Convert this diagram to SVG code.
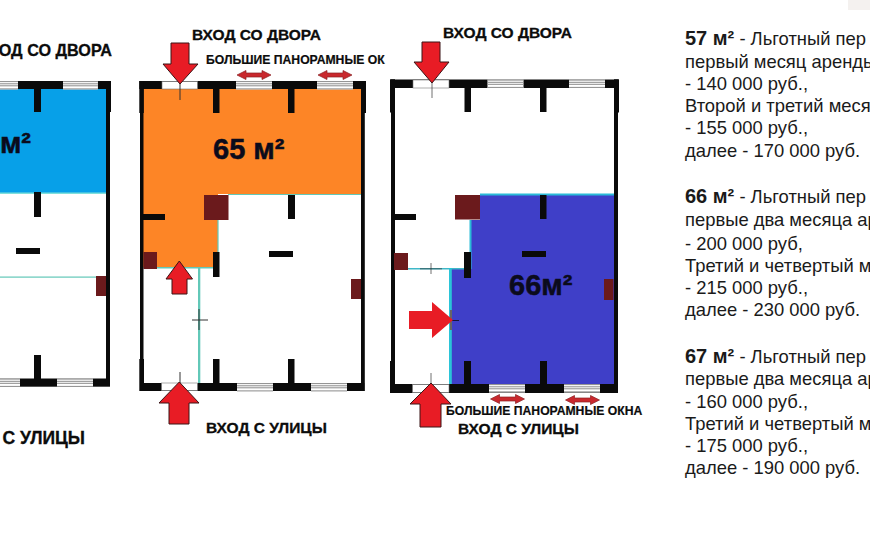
<svg xmlns="http://www.w3.org/2000/svg" width="870" height="540" viewBox="0 0 870 540">
<style>
.k{fill:#0a0a0a}
.dr{fill:#6b1a1c}
.ar{fill:#e81c25;stroke:#3a1416;stroke-width:1}
.da{fill:#c9282d;stroke:#8a2023;stroke-width:.7}
.door{fill:#fff;stroke:#777;stroke-width:.6}
.thin{stroke:#333;stroke-width:1;fill:none}
.lab{font:bold 15.5px "Liberation Sans",Arial,sans-serif;fill:#0c0c0c;stroke:#0c0c0c;stroke-width:.3}
.sm{font:bold 12.2px "Liberation Sans",Arial,sans-serif;fill:#0c0c0c;stroke:#0c0c0c;stroke-width:.2}
.area{font:bold 29px "Liberation Sans",Arial,sans-serif;fill:#0b0b1c;stroke:#0b0b1c;stroke-width:.5}
.t{font:18.4px "Liberation Sans",Arial,sans-serif;fill:#1a1a1a}
.t tspan{font-weight:bold;font-size:20px}
</style>
<defs>
<g id="win"><rect width="36" height="8.5" fill="#fff"/><path d="M0 .6H36M0 2.8H36M0 4.8H36M0 7.9H36" stroke="#8a8a8a" stroke-width="1" fill="none"/></g>
<path id="dbl" d="M-17 0L-8-4.5V-2H8V-4.5L17 0L8 4.5V2H-8V4.5Z" class="da"/>
</defs>
<rect width="870" height="540" fill="#fff"/>
<rect x="848" y="0" width="22" height="10" fill="#f4f1ef"/>

<g id="plan-57">
<rect x="0" y="89" width="106" height="104" fill="#07a0e8"/>
<rect x="0" y="192.500" width="106" height="1.500" fill="#7fe0dc"/>
<rect x="0" y="276.500" width="96" height="1.200" fill="#62c8b8"/>
<g class="k">
<rect x="0" y="81" width="111" height="8"/>
<rect x="106" y="81" width="5" height="31"/>
<rect x="106" y="81" width="4" height="305"/>
<rect x="34" y="89" width="7" height="23"/>
<rect x="34" y="192" width="7" height="25"/>
<rect x="16" y="248" width="24" height="6"/>
<rect x="34" y="355" width="7" height="24"/>
<rect x="0" y="378.500" width="110" height="8.200"/>
</g>
<use href="#win" transform="translate(-18,81)"/><use href="#win" transform="translate(63,81) scale(.97,1)"/>
<use href="#win" transform="translate(-16,378.500)"/><use href="#win" transform="translate(57,378.500)"/>
<rect class="dr" x="96" y="276" width="10" height="20"/>
<text class="area" x="31" y="153" text-anchor="end">м²</text>
<text class="lab" x="112" y="56" text-anchor="end" style="font-size:16.200px">ОД СО ДВОРА</text>
<text class="lab" x="85" y="444" text-anchor="end" style="font-size:17.500px">С УЛИЦЫ</text>
</g>

<g id="plan-65">
<path d="M143 89H361V194H218V268H143Z" fill="#fd8526"/>
<path d="M228 194.500H361M218 220V268" stroke="#62c8b8" stroke-width="1.200" fill="none"/>
<rect x="143" y="267" width="70" height="1.500" fill="#62c8b8"/>
<rect x="198" y="268" width="2.300" height="115" fill="#62c8b8"/>
<g class="k">
<rect x="139.300" y="81" width="226.700" height="8"/>
<rect x="139.300" y="81" width="4.500" height="32"/>
<rect x="140" y="81" width="3.500" height="310"/>
<rect x="361" y="81" width="5" height="32"/>
<rect x="361" y="81" width="3.800" height="310"/>
<rect x="213" y="89" width="6.500" height="24"/>
<rect x="288" y="89" width="6.500" height="24"/>
<rect x="288" y="195" width="7" height="24"/>
<rect x="143" y="214" width="22" height="6"/>
<rect x="213" y="252" width="6.500" height="25"/>
<rect x="269" y="251" width="24" height="6"/>
<rect x="213" y="359" width="6.500" height="24"/>
<rect x="288" y="359" width="6.500" height="24"/>
<rect x="139.300" y="359" width="4.700" height="24"/>
<rect x="139.300" y="383" width="225" height="8"/>
</g>
<rect class="door" x="162" y="81.500" width="35.500" height="7.500"/>
<rect class="door" x="161.500" y="383" width="36" height="7.500"/>
<use href="#win" transform="translate(236,81)"/><use href="#win" transform="translate(317,81)"/>
<use href="#win" transform="translate(237,383)"/><use href="#win" transform="translate(311,383)"/>
<rect class="dr" x="204" y="195" width="24.500" height="25"/>
<rect class="dr" x="143.500" y="252" width="13.500" height="17"/>
<rect class="dr" x="351" y="279" width="10" height="20"/>
<path class="thin" d="M180 84V100M180 372V383M192 320H208M199 309V330"/>
<path class="ar" d="M171 43H189V64H198L180 84L163 64H171Z"/>
<path class="ar" d="M179.300 261L192.500 279H187V294H172V279H166Z"/>
<path class="ar" d="M179.300 382L199 403H189V424H169V403H159Z"/>
<use href="#dbl" transform="translate(254,75)"/><use href="#dbl" transform="translate(335,75)"/>
<text class="area" x="213" y="159">65 м²</text>
<text class="lab" x="192" y="40">ВХОД СО ДВОРА</text>
<text class="sm" x="206" y="64">БОЛЬШИЕ ПАНОРАМНЫЕ ОК</text>
<text class="lab" x="206" y="433">ВХОД С УЛИЦЫ</text>
</g>

<g id="plan-66">
<path d="M480 195H614V384H451V269H470V220H480Z" fill="#3f3fc8"/>
<path d="M480 194.500H614M470.500 220V269" stroke="#2bbbd8" stroke-width="2" fill="none"/>
<path d="M408 268.800H464" stroke="#3fb8c8" stroke-width="1.500" fill="none"/>
<rect x="449" y="268" width="2.800" height="116" fill="#2bc4d8"/>
<g class="k">
<rect x="390" y="79.500" width="229" height="8.500"/>
<rect x="390" y="79.500" width="5" height="33"/>
<rect x="391" y="79.500" width="4" height="313"/>
<rect x="614" y="79.500" width="5" height="33"/>
<rect x="614" y="79.500" width="4" height="313"/>
<rect x="464.500" y="88" width="6.500" height="24"/>
<rect x="540" y="88" width="6.500" height="24"/>
<rect x="540" y="195" width="6.500" height="24"/>
<rect x="391" y="214" width="25" height="6"/>
<rect x="464" y="252" width="7" height="26"/>
<rect x="522" y="251" width="24" height="6"/>
<rect x="464" y="361" width="7" height="23"/>
<rect x="540" y="361" width="7" height="23"/>
<rect x="390" y="361" width="5" height="23"/>
<rect x="390" y="384" width="228" height="9"/>
</g>
<rect class="door" x="413" y="80" width="36" height="8"/>
<rect class="door" x="412.500" y="384.500" width="36.500" height="8"/>
<use href="#win" transform="translate(487.500,79.500)"/><use href="#win" transform="translate(569,79.500)"/>
<use href="#win" transform="translate(489,384)"/><use href="#win" transform="translate(564,384)"/>
<rect class="dr" x="455" y="195" width="25" height="24.500"/>
<rect class="dr" x="394" y="253" width="14" height="17"/>
<rect class="dr" x="604" y="279" width="9.500" height="21"/>
<path class="thin" d="M432 83V98M431 373V384M431 263V274M420 268.800H442" stroke-opacity=".7"/>
<path d="M451 310V330" stroke="#666" stroke-width="2"/>
<path d="M452 320.500H459" stroke="#16163c" stroke-width="1"/>
<path class="ar" d="M422 42H440V62H449L432 83L414 62H422Z"/>
<path class="ar" d="M431 383L451 404H441V427H420V404H410Z"/>
<path d="M409 311H432V302L453 320L432 338V329H409Z" fill="#e81c25"/>
<use href="#dbl" transform="translate(507.500,399)"/><use href="#dbl" transform="translate(582.500,400)"/>
<text class="area" x="509" y="295">66м²</text>
<text class="lab" x="443" y="38">ВХОД СО ДВОРА</text>
<text class="sm" x="446" y="415">БОЛЬШИЕ ПАНОРАМНЫЕ ОКНА</text>
<text class="lab" x="458" y="434">ВХОД С УЛИЦЫ</text>
</g>

<g id="prices">
<text class="t" x="685" y="45"><tspan>57 м²</tspan> - Льготный пер</text>
<text class="t" x="685" y="67.500">первый месяц аренды</text>
<text class="t" x="685" y="90">- 140 000 руб.,</text>
<text class="t" x="685" y="112">Второй и третий меся</text>
<text class="t" x="685" y="134">- 155 000 руб.,</text>
<text class="t" x="685" y="157">далее - 170 000 руб.</text>
<text class="t" x="685" y="203"><tspan>66 м²</tspan> - Льготный пер</text>
<text class="t" x="685" y="226">первые два месяца ар</text>
<text class="t" x="685" y="250">- 200 000 руб,</text>
<text class="t" x="685" y="272">Третий и четвертый м</text>
<text class="t" x="685" y="294">- 215 000 руб.,</text>
<text class="t" x="685" y="316">далее - 230 000 руб.</text>
<text class="t" x="685" y="363"><tspan>67 м²</tspan> - Льготный пер</text>
<text class="t" x="685" y="385">первые два месяца ар</text>
<text class="t" x="685" y="408">- 160 000 руб.,</text>
<text class="t" x="685" y="430">Третий и четвертый м</text>
<text class="t" x="685" y="452">- 175 000 руб.,</text>
<text class="t" x="685" y="474">далее - 190 000 руб.</text>
</g>
</svg>
